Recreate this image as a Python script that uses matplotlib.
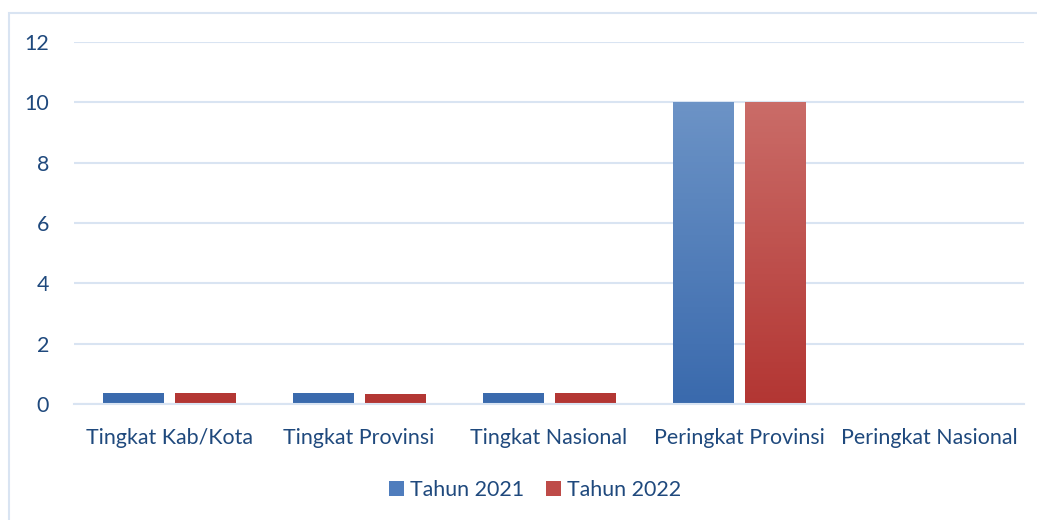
import numpy as np
import matplotlib
matplotlib.use("Agg")
import matplotlib.pyplot as plt
from matplotlib.colors import LinearSegmentedColormap
from matplotlib.patches import Rectangle, Patch

categories = ["Tingkat Kab/Kota", "Tingkat Provinsi", "Tingkat Nasional",
              "Peringkat Provinsi", "Peringkat Nasional"]
tahun_2021 = [0.37, 0.37, 0.37, 10, 0]
tahun_2022 = [0.37, 0.33, 0.37, 10, 0]
series_names = ["Tahun 2021", "Tahun 2022"]

plt.rcParams['font.family'] = ['Lato', 'DejaVu Sans']
text_col = "#1F497D"
grid_col = "#D9E4F2"

fig = plt.figure(figsize=(10.37, 5.20), dpi=100)
ax = fig.add_axes([74/1037, 1 - 404/520, 950/1037, 362/520])

# outer chart border
fig.patches.append(Rectangle((9/1037, -0.1), 1.1, 1 - 13/520 + 0.1, transform=fig.transFigure,
                             fill=False, edgecolor=grid_col, linewidth=1.5))

x = np.arange(len(categories))
w = 0.316
off = 0.192

grad_blue = LinearSegmentedColormap.from_list("b", ["#3A6AAD", "#6C93C6"])
grad_red = LinearSegmentedColormap.from_list("r", ["#B33633", "#CA6C68"])

for vals, dx, cmap in [(tahun_2021, -off, grad_blue), (tahun_2022, off, grad_red)]:
    bars = ax.bar(x + dx, vals, width=w, color="none", zorder=2)
    for b in bars:
        h = b.get_height()
        if h <= 0:
            continue
        x0 = b.get_x()
        g = np.linspace(0, h / 10.0, 100).reshape(-1, 1)
        im = ax.imshow(g, cmap=cmap, vmin=0, vmax=1, origin="lower", aspect="auto",
                       extent=[x0, x0 + b.get_width(), 0, h], zorder=2)
        im.set_clip_path(b)

ax.set_xlim(-0.5, len(categories) - 0.5)
ax.set_ylim(0, 12)
ax.set_yticks(range(0, 13, 2))
ax.set_xticks(x)
ax.set_xticklabels(categories)
ax.grid(axis="y", color=grid_col, linewidth=1.5, zorder=0)
ax.set_axisbelow(True)
for s in ["top", "right", "left"]:
    ax.spines[s].set_visible(False)
ax.spines["bottom"].set_color(grid_col)
ax.spines["bottom"].set_linewidth(1.5)
ax.tick_params(length=0, labelsize=15.4, colors=text_col)
ax.tick_params(axis="y", pad=18)
ax.tick_params(axis="x", pad=17)

handles = [Patch(facecolor="#4F7DBD"), Patch(facecolor="#BE4B48")]
fig.legend(handles, series_names, loc="center", bbox_to_anchor=(535/1037, 1 - 490/520),
           ncol=2, frameon=False, fontsize=15.4, labelcolor=text_col,
           handlelength=0.7, handleheight=0.7, handletextpad=0.3, columnspacing=1.0)

fig.savefig("out.png", dpi=100)
